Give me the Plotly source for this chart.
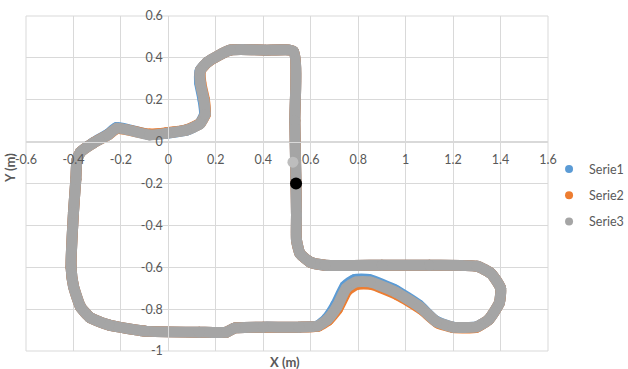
import plotly.graph_objects as go

# Serie3 (gray) path
s3_x = [0.538, 0.54, 0.54, 0.555, 0.597, 0.66, 0.9, 1.1, 1.3, 1.36, 1.40, 1.395, 1.35, 1.30,
        1.20, 1.13, 1.06, 0.96, 0.85, 0.79, 0.75, 0.71, 0.67, 0.63, 0.55, 0.40, 0.28, 0.245,
        0.13, -0.1, -0.25, -0.33, -0.37, -0.40, -0.41, -0.40, -0.39, -0.385, -0.37, -0.317,
        -0.254, -0.216, -0.08, -0.007, 0.077, 0.133, 0.155, 0.15, 0.135, 0.135, 0.165, 0.26,
        0.41, 0.527, 0.533, 0.536, 0.538]
s3_y = [-0.20, -0.35, -0.47, -0.535, -0.575, -0.59, -0.59, -0.59, -0.595, -0.63, -0.70,
        -0.77, -0.85, -0.884, -0.886, -0.86, -0.79, -0.72, -0.67, -0.67, -0.70, -0.79, -0.85,
        -0.88, -0.886, -0.886, -0.89, -0.91, -0.91, -0.905, -0.876, -0.84, -0.79, -0.69,
        -0.60, -0.34, -0.18, -0.088, -0.05, -0.007, 0.032, 0.064, 0.032, 0.04, 0.055, 0.085,
        0.13, 0.20, 0.28, 0.34, 0.38, 0.437, 0.437, 0.43, 0.10, -0.09, -0.20]

# Serie1 (blue) path
s1_x = [0.538, 0.54, 0.54, 0.555, 0.597, 0.66, 0.9, 1.1, 1.3, 1.36, 1.40, 1.395, 1.35, 1.30,
        1.20, 1.125, 1.055, 0.955, 0.845, 0.785, 0.745, 0.705, 0.667, 0.63, 0.55, 0.40, 0.28, 0.245,
        0.13, -0.1, -0.25, -0.33, -0.37, -0.40, -0.41, -0.40, -0.39, -0.385, -0.37, -0.317,
        -0.255, -0.217, -0.08, -0.007, 0.077, 0.131, 0.152, 0.146, 0.132, 0.134, 0.165, 0.26,
        0.41, 0.527, 0.533, 0.536, 0.538]
s1_y = [-0.20, -0.35, -0.47, -0.535, -0.575, -0.59, -0.59, -0.59, -0.595, -0.63, -0.70,
        -0.77, -0.85, -0.884, -0.886, -0.855, -0.78, -0.708, -0.658, -0.658, -0.69, -0.78,
        -0.845, -0.88, -0.886, -0.886, -0.89, -0.91, -0.91, -0.905, -0.876, -0.84, -0.79,
        -0.69, -0.60, -0.34, -0.18, -0.088, -0.05, -0.006, 0.035, 0.068, 0.034, 0.04, 0.055,
        0.085, 0.13, 0.20, 0.28, 0.34, 0.38, 0.437, 0.437, 0.43, 0.10, -0.09, -0.20]

# Serie2 (orange) path
s2_x = [0.538, 0.54, 0.54, 0.555, 0.597, 0.66, 0.9, 1.1, 1.3, 1.36, 1.40, 1.395, 1.35, 1.30,
        1.20, 1.135, 1.065, 0.965, 0.855, 0.795, 0.755, 0.713, 0.672, 0.63, 0.55, 0.40, 0.28, 0.245,
        0.13, -0.1, -0.25, -0.33, -0.37, -0.40, -0.41, -0.40, -0.39, -0.385, -0.37, -0.317,
        -0.254, -0.216, -0.08, -0.007, 0.077, 0.134, 0.156, 0.152, 0.137, 0.136, 0.166, 0.26,
        0.41, 0.527, 0.533, 0.536, 0.538]
s2_y = [-0.20, -0.35, -0.47, -0.535, -0.575, -0.59, -0.59, -0.59, -0.595, -0.63, -0.70,
        -0.77, -0.85, -0.886, -0.888, -0.866, -0.80, -0.732, -0.682, -0.682, -0.71, -0.80,
        -0.855, -0.882, -0.886, -0.886, -0.89, -0.91, -0.91, -0.905, -0.876, -0.84, -0.79,
        -0.69, -0.60, -0.34, -0.18, -0.088, -0.05, -0.007, 0.032, 0.062, 0.036, 0.043, 0.057,
        0.087, 0.13, 0.20, 0.28, 0.34, 0.38, 0.437, 0.437, 0.43, 0.10, -0.09, -0.20]

start_x = [0.538]
start_y = [-0.20]
mark_x = [0.525]
mark_y = [-0.098]

series_names = ["Serie1", "Serie2", "Serie3"]
colors = ["#5B9BD5", "#ED7D31", "#A5A5A5"]

x_ticks = [-0.6, -0.4, -0.2, 0, 0.2, 0.4, 0.6, 0.8, 1, 1.2, 1.4, 1.6]
x_labels = ["-0.6", "-0.4", "-0.2", "0", "0.2", "0.4", "0.6", "0.8", "1", "1.2", "1.4", "1.6"]
y_ticks = [-1, -0.8, -0.6, -0.4, -0.2, 0, 0.2, 0.4, 0.6]
y_labels = ["-1", "-0.8", "-0.6", "-0.4", "-0.2", "0", "0.2", "0.4", "0.6"]

FONT = "Lato, 'Open Sans', sans-serif"
TXT = "#595959"
GRID = "#D9D9D9"

fig = go.Figure()
paths = [(s1_x, s1_y), (s2_x, s2_y), (s3_x, s3_y)]
for (px, py), name, c in zip(paths, series_names, colors):
    fig.add_trace(go.Scatter(x=px, y=py, mode="lines+markers", name=name,
                             line=dict(color=c, width=11, shape="spline", smoothing=0.5),
                             marker=dict(color=c, size=11),
                             showlegend=False, hoverinfo="skip"))

fig.add_trace(go.Scatter(x=mark_x, y=mark_y, mode="markers", showlegend=False,
                         marker=dict(color="#BDBDBD", size=11)))
fig.add_trace(go.Scatter(x=start_x, y=start_y, mode="markers", showlegend=False,
                         marker=dict(color="#000000", size=12)))

for i, (name, c) in enumerate(zip(series_names, colors)):
    fig.add_trace(go.Scatter(x=[None], y=[None], mode="markers", name=name,
                             legendgroup=name, marker=dict(color=c, size=8)))

fig.update_layout(
    width=628, height=369,
    margin=dict(l=26, r=80, t=16, b=18, autoexpand=False),
    paper_bgcolor="white", plot_bgcolor="white",
    font=dict(family=FONT, size=12.5, color=TXT),
    legend=dict(x=1.002, xanchor="left", y=0.587, yanchor="top",
                traceorder="grouped", tracegroupgap=7,
                font=dict(family=FONT, size=12.5, color=TXT),
                bgcolor="rgba(0,0,0,0)"),
    xaxis=dict(range=[-0.6, 1.6], tickvals=x_ticks, ticktext=x_labels,
               showgrid=True, gridcolor=GRID, gridwidth=1, zeroline=False,
               anchor="free", position=0.625, showline=True, linecolor=GRID,
               ticks="outside", ticklen=6, tickcolor="rgba(0,0,0,0)", automargin=False),
    yaxis=dict(range=[-1, 0.6], tickvals=y_ticks, ticktext=y_labels,
               showgrid=True, gridcolor=GRID, gridwidth=1, zeroline=False,
               anchor="free", position=0.2727, showline=True, linecolor=GRID,
               ticks="outside", ticklen=3, tickcolor="rgba(0,0,0,0)", automargin=False),
    shapes=[dict(type="rect", xref="paper", yref="paper", x0=0, y0=0, x1=1, y1=1,
                 line=dict(color=GRID, width=1), layer="below")],
    annotations=[
        dict(text="<b>X (m)</b>", xref="paper", yref="paper", x=0.497, y=-0.033,
             xanchor="center", yanchor="middle", showarrow=False,
             font=dict(family=FONT, size=13, color=TXT)),
        dict(text="<b>Y (m)</b>", xref="paper", yref="paper", x=-0.0307, y=0.546,
             xanchor="center", yanchor="middle", textangle=-90, showarrow=False,
             font=dict(family=FONT, size=13, color=TXT)),
    ],
)

fig.write_html("out.html", config={"displayModeBar": False},
               post_script="document.body.style.margin='0';document.body.style.overflow='hidden';")
